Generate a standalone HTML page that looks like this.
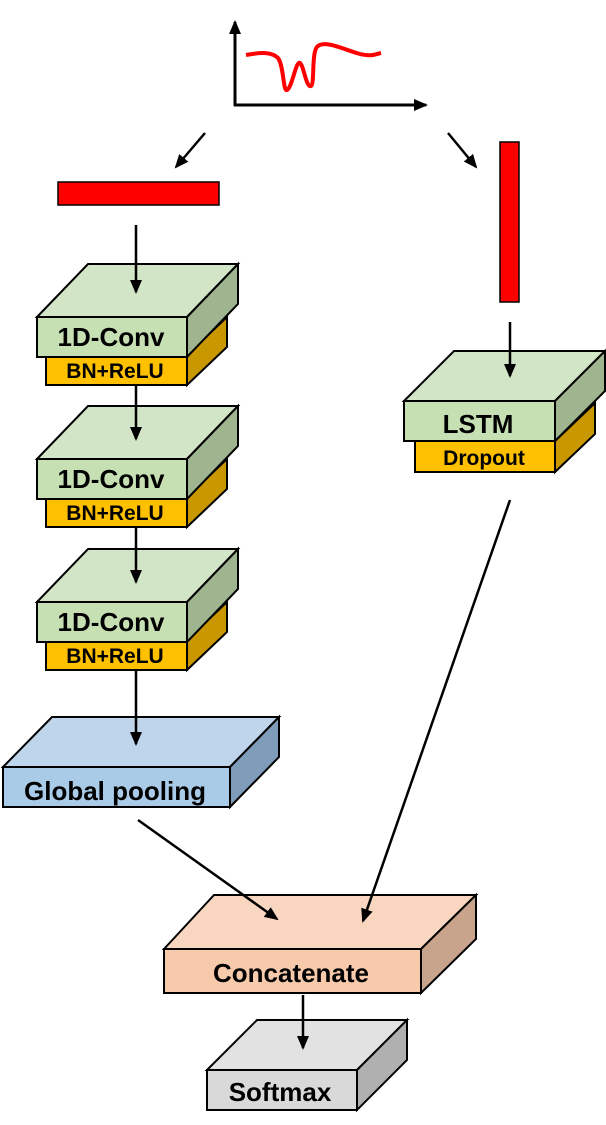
<!DOCTYPE html>
<html><head><style>body{margin:0;background:#fff}svg{display:block}text{font-family:"Liberation Sans",Arial,sans-serif;font-weight:bold;text-anchor:middle}</style></head>
<body>
<svg width="606" height="1125" viewBox="0 0 606 1125" xmlns="http://www.w3.org/2000/svg">
<defs><marker id="a" markerWidth="14" markerHeight="14" refX="12" refY="7" orient="auto" markerUnits="userSpaceOnUse"><path d="M0,1 L14,7 L0,13 z" fill="#000"/></marker>
<marker id="b" markerWidth="14" markerHeight="12" refX="12" refY="6" orient="auto" markerUnits="userSpaceOnUse"><path d="M0,0 L14,6 L0,12 z" fill="#000"/></marker></defs>
<g stroke="#000" stroke-width="2">
<line x1="235" y1="106" x2="235" y2="22" stroke-width="3" marker-end="url(#b)"/>
<line x1="234" y1="105" x2="426" y2="105" stroke-width="3" marker-end="url(#b)"/>
<path d="M246,55 C262,52 272,52 278,58 C284,66 283,92 287,90 C292,88 296,60 300,63 C304,66 306,88 311,86 C315,84 311,50 318,46 C326,40 345,50 360,54 C372,57 376,54 381,53" fill="none" stroke="#f00" stroke-width="4"/>
<rect x="58" y="182" width="161" height="23" fill="#f00" stroke-width="1.5"/>
<rect x="500" y="142" width="19" height="160" fill="#f00" stroke-width="1.5"/>
</g>
<g stroke="#000" stroke-width="2">
<g id="c1">
<polygon points="187,355 227,317 227,347 187,385" fill="#c99700"/>
<rect x="46" y="355" width="141" height="30" fill="#ffc000"/>
<polygon points="37,317 88,264 238,264 187,317" fill="#d2e5c6"/>
<polygon points="187,317 238,264 238,304 187,357" fill="#9fb58f"/>
<rect x="37" y="317" width="150" height="40" fill="#c6e0b4"/>
</g>
<use href="#c1" y="142"/>
<use href="#c1" y="285"/>
<polygon points="555,441 595,403 595,434 555,472" fill="#c99700"/>
<rect x="415" y="441" width="140" height="31" fill="#ffc000"/>
<polygon points="404,401 454,351 605,351 555,401" fill="#d2e5c6"/>
<polygon points="555,401 605,351 605,391 555,441" fill="#9fb58f"/>
<rect x="404" y="401" width="151" height="40" fill="#c6e0b4"/>
<polygon points="3,767 52,717 279,717 230,767" fill="#bed5eb"/>
<polygon points="230,767 279,717 279,757 230,807" fill="#7f9cba"/>
<rect x="3" y="767" width="227" height="40" fill="#a9cbe8"/>
<polygon points="164,949 214,895 476,895 421,949" fill="#f8d6c0"/>
<polygon points="421,949 476,895 476,939 421,993" fill="#c8a48c"/>
<rect x="164" y="949" width="257" height="44" fill="#f7caac"/>
<polygon points="207,1070 257,1020 407,1020 357,1070" fill="#e2e2e2"/>
<polygon points="357,1070 407,1020 407,1060 357,1110" fill="#b0b0b0"/>
<rect x="207" y="1070" width="150" height="40" fill="#d9d9d9"/>
</g>
<g stroke="#000" stroke-width="2.5">
<line x1="205" y1="133" x2="176" y2="167" marker-end="url(#a)"/>
<line x1="448" y1="133" x2="476" y2="167" marker-end="url(#a)"/>
<line x1="136" y1="225" x2="136" y2="292" marker-end="url(#a)"/>
<line x1="510" y1="322" x2="510" y2="376" marker-end="url(#a)"/>
<line x1="136" y1="385" x2="136" y2="439" marker-end="url(#a)"/>
<line x1="136" y1="527" x2="136" y2="582" marker-end="url(#a)"/>
<line x1="136" y1="670" x2="136" y2="744" marker-end="url(#a)"/>
<line x1="138" y1="820" x2="277" y2="919" marker-end="url(#a)"/>
<line x1="510" y1="500" x2="363" y2="921" marker-end="url(#a)"/>
<line x1="303" y1="995" x2="303" y2="1048" marker-end="url(#a)"/>
</g>
<g font-size="26"><text x="111" y="346">1D-Conv</text><text x="111" y="488">1D-Conv</text><text x="111" y="631">1D-Conv</text></g>
<g font-size="21"><text x="115" y="378">BN+ReLU</text><text x="115" y="520">BN+ReLU</text><text x="115" y="663">BN+ReLU</text></g>
<text x="478" y="433" font-size="26">LSTM</text>
<text x="484" y="465" font-size="21">Dropout</text>
<text x="115" y="800" font-size="26">Global pooling</text>
<text x="291" y="982" font-size="26">Concatenate</text>
<text x="280" y="1101" font-size="26">Softmax</text>
</svg>
</body></html>
